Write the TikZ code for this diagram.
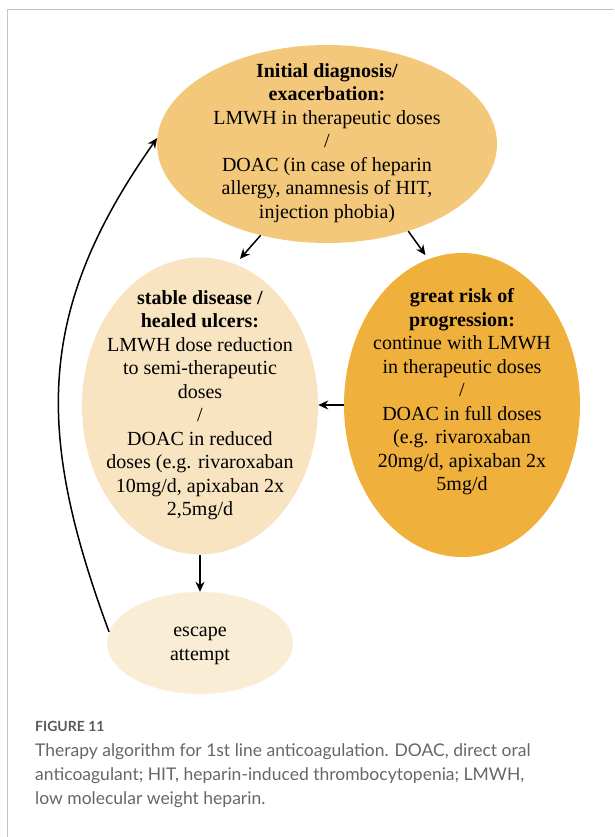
\documentclass[tikz,border=0pt]{standalone}
\usepackage{fontspec}
\setmainfont{Liberation Serif}
\newfontfamily\capfont{Lato}
\usetikzlibrary{shapes.geometric,arrows.meta}
\definecolor{topc}{HTML}{F3C87A}
\definecolor{leftc}{HTML}{F9E4C1}
\definecolor{rightc}{HTML}{F0B03C}
\definecolor{escc}{HTML}{FAEDD6}
\definecolor{capgray}{HTML}{666666}
\definecolor{figgray}{HTML}{5A5A5A}
\definecolor{framec}{HTML}{C4C4C4}
\begin{document}
\begin{tikzpicture}[x=1pt,y=-1pt,
  oval/.style={ellipse, draw=none, inner sep=0pt},
  txt/.style={align=center, inner sep=0pt, font=\fontsize{20}{23.5}\selectfont},
  arr/.style={line width=1.5pt, -{Stealth[length=10pt,width=9pt]}}]
\useasboundingbox (0,0) rectangle (614,837);
\draw[framec, line width=1pt] (614,10) -- (7,10) -- (7,837);
% ellipses
\node[oval, fill=topc, minimum width=340pt, minimum height=198pt] (top) at (327,144) {};
\node[oval, fill=leftc, minimum width=236pt, minimum height=297pt] (left) at (200,406) {};
\node[oval, fill=rightc, minimum width=236pt, minimum height=304pt] (right) at (462,405) {};
\node[oval, fill=escc, minimum width=186pt, minimum height=102pt] (esc) at (200,643) {};
% texts
\node[txt] (toptxt) at (327,143) {\textbf{Initial diagnosis/}\\\textbf{exacerbation:}\\LMWH in therapeutic doses\\/\\DOAC (in case of heparin\\allergy, anamnesis of HIT,\\injection phobia)};
\node[txt] (lefttxt) at (200,405) {\textbf{stable disease /}\\\textbf{healed ulcers:}\\LMWH dose reduction\\to semi-therapeutic\\doses\\/\\DOAC in reduced\\doses (e.g. rivaroxaban\\10mg/d, apixaban 2x\\2,5mg/d};
\node[txt] (righttxt) at (462,392) {\textbf{great risk of}\\\textbf{progression:}\\continue with LMWH\\in therapeutic doses\\/\\DOAC in full doses\\(e.g. rivaroxaban\\20mg/d, apixaban 2x\\5mg/d};
\node[txt] (esctxt) at (200,646) {escape\\attempt};
% connectors
\draw[arr, shorten >=7pt] (top.234) -- (left.76);
\draw[arr, shorten >=5pt] (top.313) -- (right.103);
\draw[arr] (right.west) -- (right.west -| left.east);
\draw[arr] (left.south) -- (esc.north);
\draw[arr] (esc.173) .. controls (36,434) and (34.5,312) .. (top.178);
% caption
\node[anchor=base west, inner sep=0pt, text=figgray, font=\capfont\bfseries\fontsize{14}{16}\selectfont] (fig) at (35,731) {FIGURE 11};
\node[anchor=north west, inner sep=0pt, align=left, text=capgray, font=\capfont\fontsize{17.5}{24}\selectfont] (cap) at (35,743.3) {Therapy algorithm for 1st line anticoagulation. DOAC, direct oral\\anticoagulant; HIT, heparin-induced thrombocytopenia; LMWH,\\low molecular weight heparin.};
\end{tikzpicture}
\end{document}
